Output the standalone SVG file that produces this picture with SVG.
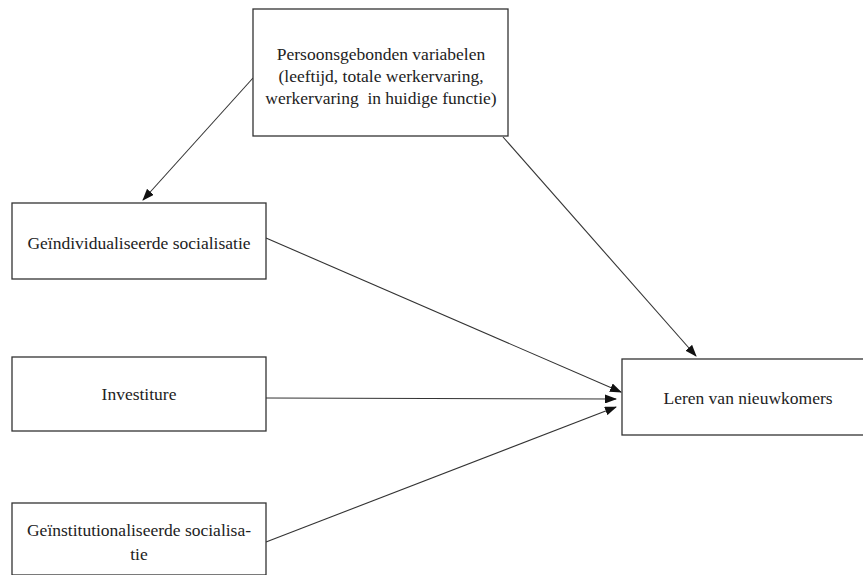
<svg xmlns="http://www.w3.org/2000/svg" width="863" height="575" viewBox="0 0 863 575">
<style>
.box{fill:#fff;stroke:#333;stroke-width:1.3}
.t{font-family:'Liberation Serif','Times New Roman','DejaVu Serif',serif;font-size:17.5px;fill:#222;text-anchor:middle}
.c{stroke:#333;stroke-width:1.1;fill:none;marker-end:url(#ah)}
</style>
<defs>
<marker id="ah" markerWidth="12" markerHeight="9" refX="11" refY="4.5" orient="auto" markerUnits="userSpaceOnUse">
<path d="M0,0 L12,4.5 L0,9 Z" fill="#111"/>
</marker>
</defs>
<rect width="863" height="575" fill="#fff"/>
<g id="connectors">
<line class="c" x1="253" y1="78" x2="143" y2="200"/>
<line class="c" x1="503" y1="137" x2="696" y2="356"/>
<line class="c" x1="266" y1="238" x2="621" y2="392"/>
<line class="c" x1="266" y1="398" x2="616" y2="399"/>
<line class="c" x1="266" y1="542" x2="616" y2="407"/>
</g>
<g id="persoonsgebonden">
<rect class="box" x="253" y="9" width="255" height="127"/>
<text class="t" x="381" y="60">Persoonsgebonden variabelen</text>
<text class="t" x="381" y="82">(leeftijd, totale werkervaring,</text>
<text class="t" x="381" y="104" xml:space="preserve">werkervaring  in huidige functie)</text>
</g>
<g id="geindividualiseerde">
<rect class="box" x="12" y="203" width="254" height="76"/>
<text class="t" x="139" y="249">Geïndividualiseerde socialisatie</text>
</g>
<g id="investiture">
<rect class="box" x="12" y="357" width="254" height="74"/>
<text class="t" x="139" y="400">Investiture</text>
</g>
<g id="geinstitutionaliseerde">
<rect class="box" x="12" y="503" width="254" height="72"/>
<text class="t" x="139" y="536">Geïnstitutionaliseerde socialisa-</text>
<text class="t" x="139" y="560">tie</text>
</g>
<g id="leren">
<rect class="box" x="622" y="359" width="245" height="76"/>
<text class="t" x="748" y="404">Leren van nieuwkomers</text>
</g>
</svg>
